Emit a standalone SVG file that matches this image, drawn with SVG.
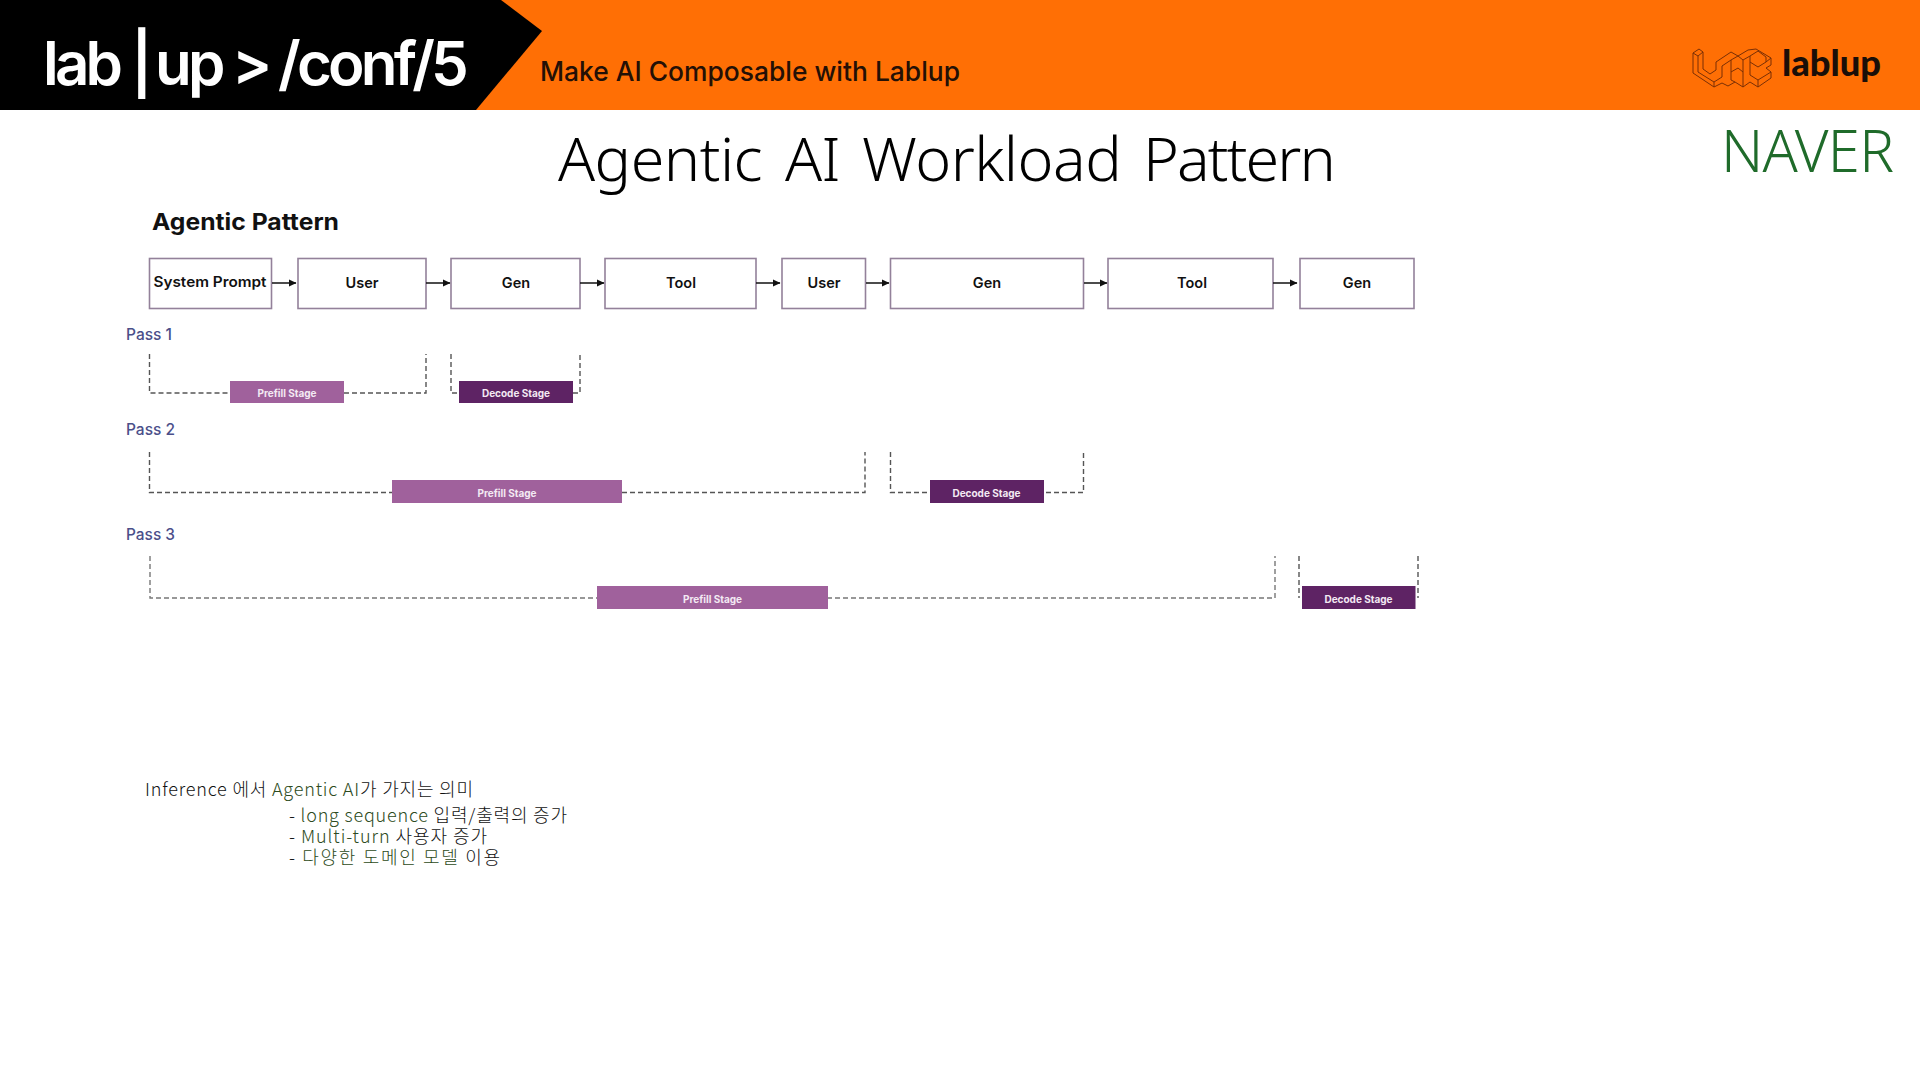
<svg xmlns="http://www.w3.org/2000/svg" width="1920" height="1080" viewBox="0 0 1920 1080">
<style>
.box{fill:#fff;stroke:#93819a;stroke-width:1.6}
.bl{font:600 14.500px Inter,"Liberation Sans",sans-serif;fill:#111;text-anchor:middle}
.pass{font:500 16px Inter,"Liberation Sans",sans-serif;fill:#4b4f8a}
.st{font:700 10px Inter,"Liberation Sans",sans-serif;fill:#f3e9f3;text-anchor:middle}
.pre{fill:#a0619c}.dec{fill:#5e2364}
.dash{fill:none;stroke:#555;stroke-width:1.4;stroke-dasharray:5 3}
.arr{stroke:#111;stroke-width:1.5;fill:none;marker-end:url(#ah)}
.body{font:300 18px "Noto Sans CJK KR","Noto Sans",sans-serif;fill:#111}
.g{fill:#2c4a20}
</style>
<defs><marker id="ah" markerUnits="userSpaceOnUse" markerWidth="8" markerHeight="8" refX="7" refY="4" orient="auto"><path d="M0 0.500L7.500 4L0 7.500z" fill="#111"/></marker></defs>
<rect width="1920" height="1080" fill="#fff"/>
<g id="header">
<rect width="1920" height="110" fill="#ff6f05"/>
<polygon points="0,0 501,0 542,31 476,110 0,110" fill="#000"/>
<text y="85" font-family="Inter,'Liberation Sans',sans-serif" font-size="60" font-weight="600" fill="#fff" letter-spacing="-3.800"><tspan x="43">lab </tspan><tspan x="131">| </tspan><tspan x="155">up </tspan><tspan x="232">&gt; </tspan><tspan x="278">/conf/5</tspan></text>
<text x="540" y="81" font-family="Inter,'Liberation Sans',sans-serif" font-size="27" font-weight="500" fill="#241006" textLength="420" lengthAdjust="spacingAndGlyphs">Make AI Composable with Lablup</text>
</g>
<g id="logo">
<g fill="none" stroke="#7a2f05" stroke-width="1">
<path d="M1693 53L1699 49L1703 52V69L1710 74L1716 70V62L1731 52L1738 56L1748 50L1756 49L1771 58V65L1766 68L1771 72V78L1758 87L1750 82L1743 87L1735 82L1728 86L1722 83L1714 87L1693 73Z"/>
<path d="M1693 53L1698 56V72L1714 82V87M1698 56L1703 52M1714 82L1722 77V66L1731 60V80L1735 82M1731 60L1738 56L1743 60V87M1743 60L1750 56V75L1758 80V87M1750 56L1758 51L1766 57V62L1758 67L1750 62M1758 80L1771 72M1731 72L1738 68L1743 72M1766 62L1771 58"/>
</g>
<text x="1782" y="76" font-family="Lato,'Liberation Sans',sans-serif" font-size="36" font-weight="900" fill="#1a0e08" textLength="99" lengthAdjust="spacingAndGlyphs">lablup</text>
</g>
<g id="title"><text y="181" font-family="'Noto Sans','Noto Sans CJK KR',sans-serif" font-size="61" font-weight="350" fill="#000" letter-spacing="-0.500"><tspan x="558">Agentic </tspan><tspan x="785">AI </tspan><tspan x="862">Workload </tspan><tspan x="1143" letter-spacing="-1.900">Pattern</tspan></text></g>
<g id="naver"><text x="1721" y="172" font-family="'Noto Sans',sans-serif" font-size="58" font-weight="350" fill="#1f6b2a" textLength="173" lengthAdjust="spacing">NAVER</text></g>
<g id="heading"><text x="152" y="230" font-family="Inter,'Liberation Sans',sans-serif" font-size="23" font-weight="700" fill="#111" textLength="187" lengthAdjust="spacingAndGlyphs">Agentic Pattern</text></g>
<g id="n-system"><rect class="box" x="149.500" y="258.500" width="122" height="50"/><text class="bl" x="210" y="287" textLength="113" lengthAdjust="spacingAndGlyphs">System Prompt</text></g>
<g id="n-user1"><rect class="box" x="298" y="258.500" width="128" height="50"/><text class="bl" x="362" y="288">User</text></g>
<g id="n-gen1"><rect class="box" x="451" y="258.500" width="129" height="50"/><text class="bl" x="516" y="288">Gen</text></g>
<g id="n-tool1"><rect class="box" x="605" y="258.500" width="151" height="50"/><text class="bl" x="681" y="288">Tool</text></g>
<g id="n-user2"><rect class="box" x="782" y="258.500" width="83.500" height="50"/><text class="bl" x="824" y="288">User</text></g>
<g id="n-gen2"><rect class="box" x="890.500" y="258.500" width="193" height="50"/><text class="bl" x="987" y="288">Gen</text></g>
<g id="n-tool2"><rect class="box" x="1108" y="258.500" width="165" height="50"/><text class="bl" x="1192" y="288">Tool</text></g>
<g id="n-gen3"><rect class="box" x="1300" y="258.500" width="114" height="50"/><text class="bl" x="1357" y="288">Gen</text></g>
<g id="connectors">
<path class="arr" d="M272 283H296"/><path class="arr" d="M426 283H450"/><path class="arr" d="M580 283H604"/><path class="arr" d="M756 283H780"/><path class="arr" d="M866 283H889"/><path class="arr" d="M1084 283H1107"/><path class="arr" d="M1273 283H1297"/>
<path class="dash" d="M149.500 354V393H230M344 393H426V354"/>
<path class="dash" d="M451 354V393H459M573 393H580V354"/>
<path class="dash" d="M149.500 452V492.500H392M622 492.500H865V452"/>
<path class="dash" d="M890.500 452V492.500H932M1046 492.500H1083.500V452"/>
<path class="dash" d="M150 556V598H597M827 598H1275V556" style="stroke:#777"/>
<path class="dash" d="M1299 556V598M1418 556V598"/>
</g>
<g id="pass1"><text class="pass" x="126" y="340" textLength="46" lengthAdjust="spacingAndGlyphs">Pass 1</text>
<g id="s-p1"><rect class="pre" x="230" y="381" width="114" height="22"/><text class="st" x="287" y="397">Prefill Stage</text></g>
<g id="s-d1"><rect class="dec" x="459" y="381" width="114" height="22"/><text class="st" x="516" y="397">Decode Stage</text></g></g>
<g id="pass2"><text class="pass" x="126" y="435" textLength="49" lengthAdjust="spacingAndGlyphs">Pass 2</text>
<g id="s-p2"><rect class="pre" x="392" y="480" width="230" height="23"/><text class="st" x="507" y="497">Prefill Stage</text></g>
<g id="s-d2"><rect class="dec" x="930" y="480" width="114" height="23"/><text class="st" x="986.500" y="497">Decode Stage</text></g></g>
<g id="pass3"><text class="pass" x="126" y="540" textLength="49" lengthAdjust="spacingAndGlyphs">Pass 3</text>
<g id="s-p3"><rect class="pre" x="597" y="586" width="231" height="23"/><text class="st" x="712.500" y="603">Prefill Stage</text></g>
<g id="s-d3"><rect class="dec" x="1302" y="586" width="113.500" height="23"/><text class="st" x="1358.500" y="603">Decode Stage</text></g></g>
<g id="notes">
<text class="body"><tspan x="145" y="796" textLength="328" lengthAdjust="spacing">Inference 에서 <tspan class="g">Agentic AI</tspan>가 가지는 의미</tspan><tspan x="289" y="822" textLength="278" lengthAdjust="spacing">- <tspan class="g">long sequence</tspan> 입력/출력의 증가</tspan><tspan x="289" y="843" textLength="198" lengthAdjust="spacing">- <tspan class="g">Multi-turn</tspan> 사용자 증가</tspan><tspan x="289" y="864" textLength="211" lengthAdjust="spacing">- <tspan class="g">다양한 도메인 모델</tspan> 이용</tspan></text>
</g>
</svg>
